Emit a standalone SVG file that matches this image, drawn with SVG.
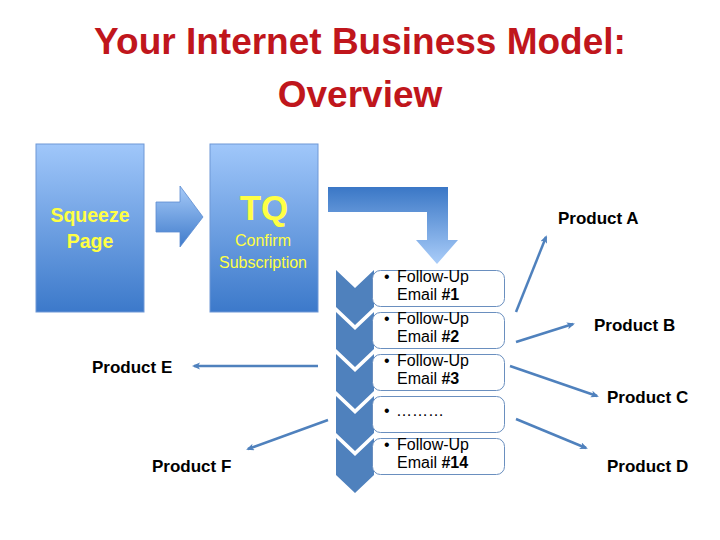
<svg xmlns="http://www.w3.org/2000/svg" width="720" height="540" viewBox="0 0 720 540">
<defs>
<linearGradient id="boxGrad" x1="0" y1="0" x2="0" y2="1">
<stop offset="0" stop-color="#A0C7FA"/>
<stop offset="1" stop-color="#3C79CA"/>
</linearGradient>
<linearGradient id="arrGrad" x1="0" y1="0" x2="0" y2="1">
<stop offset="0" stop-color="#A6CAF8"/>
<stop offset="1" stop-color="#3F7BCB"/>
</linearGradient>
<linearGradient id="bentGrad" x1="0" y1="187" x2="0" y2="264" gradientUnits="userSpaceOnUse">
<stop offset="0" stop-color="#3A77C6"/>
<stop offset="1" stop-color="#AACDF9"/>
</linearGradient>
<marker id="ah" markerWidth="10" markerHeight="10" refX="6" refY="3.5" orient="auto" markerUnits="userSpaceOnUse">
<path d="M0,0 L8,3.5 L0,7 L2,3.5 Z" fill="#4F81BD"/>
</marker>
<style>
.box{fill:url(#boxGrad);stroke:#6E98D6;stroke-width:1}
.yl{fill:#FFFF44;font-family:"Liberation Sans",Arial,sans-serif;text-anchor:middle}
.title{fill:#C0161C;font-family:"Liberation Sans",Arial,sans-serif;font-weight:bold;font-size:37px;text-anchor:middle}
.prod{fill:#000;font-family:"Liberation Sans",Arial,sans-serif;font-weight:bold;font-size:17px}
.em{fill:#000;font-family:"Liberation Sans",Arial,sans-serif;font-size:16px}
.tb{fill:#fff;stroke:#6A8FBF;stroke-width:1}
.chev{fill:#4F81BD}
.con{stroke:#4F81BD;stroke-width:2.5;fill:none;marker-end:url(#ah)}
</style>
</defs>
<rect width="720" height="540" fill="#fff"/>
<g id="title">
<text class="title" x="360" y="54">Your Internet Business Model:</text>
<text class="title" x="360" y="107">Overview</text>
</g>
<g id="squeeze">
<rect class="box" x="36" y="144" width="108" height="168"/>
<text class="yl" x="90" y="222" font-size="19.5" font-weight="bold">Squeeze</text>
<text class="yl" x="90" y="248" font-size="19.5" font-weight="bold">Page</text>
</g>
<g id="arrow1">
<path d="M156,202 H180 V186 L203,217 L180,247 V232 H156 Z" fill="url(#arrGrad)" stroke="#5C8CD0" stroke-width="0.8"/>
</g>
<g id="tq">
<rect class="box" x="210" y="144" width="108" height="168"/>
<text class="yl" x="264" y="220" font-size="35" font-weight="bold">TQ</text>
<text class="yl" x="263" y="246" font-size="16">Confirm</text>
<text class="yl" x="263" y="268" font-size="16">Subscription</text>
</g>
<g id="bentArrow">
<path d="M328,187 H448 V240 H458 L437,264 L416,240 H427 V212 H328 Z" fill="url(#bentGrad)"/>
</g>
<g id="chevrons">
<polygon class="chev" points="336,270 355,288 374,270 374,307 355,325 336,307"/>
<polygon class="chev" points="336,312 355,330 374,312 374,349 355,367 336,349"/>
<polygon class="chev" points="336,354 355,372 374,354 374,391 355,409 336,391"/>
<polygon class="chev" points="336,396 355,414 374,396 374,433 355,451 336,433"/>
<polygon class="chev" points="336,438 355,456 374,438 374,475 355,493 336,475"/>
</g>
<g id="email1">
<rect class="tb" x="372.5" y="270.5" width="132" height="36" rx="8"/>
<text class="em" x="384" y="282">•</text>
<text class="em" x="397" y="282">Follow-Up</text>
<text class="em" x="397" y="300">Email <tspan font-weight="bold">#1</tspan></text>
</g>
<g id="email2">
<rect class="tb" x="372.5" y="312.5" width="132" height="36" rx="8"/>
<text class="em" x="384" y="324">•</text>
<text class="em" x="397" y="324">Follow-Up</text>
<text class="em" x="397" y="342">Email <tspan font-weight="bold">#2</tspan></text>
</g>
<g id="email3">
<rect class="tb" x="372.5" y="354.5" width="132" height="36" rx="8"/>
<text class="em" x="384" y="366">•</text>
<text class="em" x="397" y="366">Follow-Up</text>
<text class="em" x="397" y="384">Email <tspan font-weight="bold">#3</tspan></text>
</g>
<g id="email4">
<rect class="tb" x="372.5" y="396.5" width="132" height="36" rx="8"/>
<text class="em" x="384" y="416">•</text>
<text class="em" x="396" y="416">………</text>
</g>
<g id="email14">
<rect class="tb" x="372.5" y="438.5" width="132" height="36" rx="8"/>
<text class="em" x="384" y="450">•</text>
<text class="em" x="397" y="450">Follow-Up</text>
<text class="em" x="397" y="468">Email <tspan font-weight="bold">#14</tspan></text>
</g>
<g id="connectors">
<line class="con" x1="516" y1="312" x2="546" y2="237"/>
<line class="con" x1="516" y1="342" x2="573" y2="324"/>
<line class="con" x1="510" y1="366" x2="597" y2="396"/>
<line class="con" x1="516" y1="419" x2="586" y2="448"/>
<line class="con" x1="318" y1="366" x2="194" y2="366"/>
<line class="con" x1="328" y1="420" x2="248" y2="449"/>
</g>
<g id="productA"><text class="prod" x="558" y="224">Product A</text></g>
<g id="productB"><text class="prod" x="594" y="331">Product B</text></g>
<g id="productC"><text class="prod" x="607" y="403">Product C</text></g>
<g id="productD"><text class="prod" x="607" y="472">Product D</text></g>
<g id="productE"><text class="prod" x="92" y="373">Product E</text></g>
<g id="productF"><text class="prod" x="152" y="472">Product F</text></g>
</svg>
